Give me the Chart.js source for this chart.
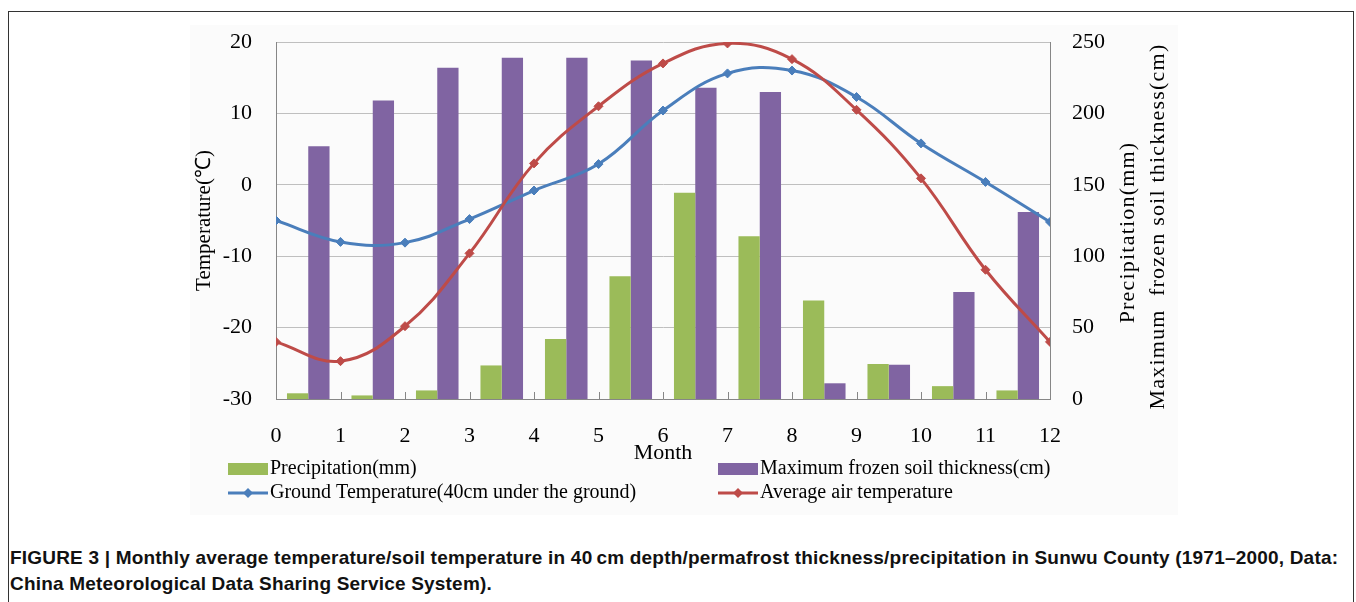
<!DOCTYPE html>
<html>
<head>
<meta charset="utf-8">
<script src="https://cdn.jsdelivr.net/npm/chart.js@4.4.1/dist/chart.umd.min.js"></script>
<style>
  html, body { margin: 0; padding: 0; background: #fff; overflow: hidden; }
  body { width: 1356px; height: 602px; position: relative; }
  .frame { position: absolute; left: 8px; top: 11px; width: 1344px; height: 640px; border: 1px solid #333; }
  .plotbg { position: absolute; left: 190px; top: 25px; width: 988px; height: 490px; background: #fbfbfb; }
  .wrap { position: absolute; left: 0; top: 0; width: 1356px; height: 520px; }
  .caption { position: absolute; left: 10px; top: 545px; font-family: 'Liberation Sans', Arial, sans-serif;
    font-weight: bold; font-size: 19px; letter-spacing: 0.2px; line-height: 26px; color: #111; white-space: nowrap; }
</style>
</head>
<body>
<div class="frame"></div>
<div class="plotbg"></div>
<div class="wrap"><canvas id="climateChart"></canvas></div>
<div class="caption">FIGURE 3 | Monthly average temperature/soil temperature in 40&thinsp;cm depth/permafrost thickness/precipitation in Sunwu County (1971–2000, Data:<br>China Meteorological Data Sharing Service System).</div>
<script>
// Data
// bars sit in the month interval ending at each month number
const barMonths = [1,2,3,4,5,6,7,8,9,10,11,12]
const precipitation = [4, 2.5, 6, 23.5, 42, 86, 144.5, 114, 69, 24.5, 9, 6]
const frozenSoil = [177, 209, 232, 239, 239, 237, 218, 215, 11, 24, 75, 131]

const lineMonths = [0,1,2,3,4,5,6,7,8,9,10,11,12]
const groundTemp = [-5, -8, -8.1, -4.8, -0.8, 2.9, 10.4, 15.6, 16, 12.3, 5.8, 0.4, -5.2]
const airTemp = [-22, -24.7, -19.8, -9.6, 3, 11, 17, 19.8, 17.6, 10.5, 0.9, -11.9, -22]

const serif = "'Liberation Serif', 'Times New Roman', serif"
Chart.defaults.font.family = serif
Chart.defaults.color = '#000'

const green = '#9bbb59'
const purple = '#8064a2'
const blue = '#4a7ebb'
const red = '#be4b48'
const axisGray = '#868686'

// centre of a month's interval on the 0..12 axis
const barPoints = values => barMonths.map((m, i) => ({ x: m - 0.5, y: values[i] }))
const linePoints = values => lineMonths.map((m, i) => ({ x: m, y: values[i] }))

// inside tick marks on the month axis
const innerTicks = {
    id: 'innerTicks',
    beforeDatasetsDraw(chart) {
        const ctx = chart.ctx
        const x = chart.scales.x
        const bottom = chart.chartArea.bottom
        ctx.save()
        ctx.strokeStyle = axisGray
        ctx.lineWidth = 1
        lineMonths.forEach(m => {
            const px = Math.round(x.getPixelForValue(m)) + 0.5
            ctx.beginPath()
            ctx.moveTo(px, bottom)
            ctx.lineTo(px, bottom - 7)
            ctx.stroke()
        })
        ctx.restore()
    }
}

// right axis titles (read bottom to top) and the 2x2 legend
const extraText = {
    id: 'extraText',
    afterDraw(chart) {
        const ctx = chart.ctx
        const area = chart.chartArea
        const midY = (area.top + area.bottom) / 2 + 6
        ctx.save()
        ctx.fillStyle = '#000'
        ctx.font = '22px ' + serif
        ctx.letterSpacing = '1.2px'
        ctx.textAlign = 'center'
        ctx.textBaseline = 'middle'
        const titles = [['Precipitation(mm)', 1128, midY + 6], ['Maximum  frozen soil thickness(cm)', 1158, midY]]
        titles.forEach(([t, x, y]) => {
            ctx.save()
            ctx.translate(x, y)
            ctx.rotate(-Math.PI / 2)
            ctx.fillText(t, 0, 0)
            ctx.restore()
        })
        ctx.letterSpacing = '0px'

        const cols = [228, 718]
        const rows = [469, 493]
        ctx.font = '20px ' + serif
        ctx.textAlign = 'left'
        chart.data.datasets.forEach((ds, i) => {
            const x = cols[i % 2]
            const y = rows[Math.floor(i / 2)]
            if (ds.type === 'line') {
                ctx.strokeStyle = ds.borderColor
                ctx.lineWidth = 3
                ctx.beginPath()
                ctx.moveTo(x, y)
                ctx.lineTo(x + 40, y)
                ctx.stroke()
                ctx.fillStyle = ds.borderColor
                ctx.beginPath()
                ctx.moveTo(x + 20, y - 5)
                ctx.lineTo(x + 25, y)
                ctx.lineTo(x + 20, y + 5)
                ctx.lineTo(x + 15, y)
                ctx.closePath()
                ctx.fill()
            } else {
                ctx.fillStyle = ds.backgroundColor
                ctx.fillRect(x, y - 6, 40, 12)
            }
            ctx.fillStyle = '#000'
            ctx.fillText(ds.label, x + 42, y)
        })
        ctx.restore()
    }
}

new Chart(document.getElementById('climateChart'), {
    type: 'bar',
    data: {
        datasets: [
            {
                label: 'Precipitation(mm)',
                data: barPoints(precipitation),
                backgroundColor: green,
                yAxisID: 'y1',
                categoryPercentage: 0.66,
                barPercentage: 1.0,
                order: 2
            },
            {
                label: 'Maximum frozen soil thickness(cm)',
                data: barPoints(frozenSoil),
                backgroundColor: purple,
                yAxisID: 'y1',
                categoryPercentage: 0.66,
                barPercentage: 1.0,
                order: 2
            },
            {
                type: 'line',
                label: 'Ground Temperature(40cm under the ground)',
                data: linePoints(groundTemp),
                borderColor: blue,
                backgroundColor: blue,
                borderWidth: 3,
                tension: 0.4,
                pointStyle: 'rectRot',
                pointRadius: 4.5,
                pointBorderWidth: 1,
                yAxisID: 'y',
                order: 1
            },
            {
                type: 'line',
                label: 'Average air temperature',
                data: linePoints(airTemp),
                borderColor: red,
                backgroundColor: red,
                borderWidth: 3,
                tension: 0.4,
                pointStyle: 'rectRot',
                pointRadius: 4.5,
                pointBorderWidth: 1,
                yAxisID: 'y',
                order: 0
            }
        ]
    },
    options: {
        responsive: true,
        maintainAspectRatio: false,
        animation: false,
        layout: { padding: { top: 42, left: 0, right: 0, bottom: 21 } },
        plugins: {
            legend: { display: false },
            tooltip: { enabled: false }
        },
        scales: {
            x: {
                type: 'linear',
                position: 'bottom',
                min: 0,
                max: 12,
                offset: false,
                ticks: { stepSize: 1, padding: 24, font: { size: 22 }, maxRotation: 0, autoSkip: false },
                grid: { display: false, drawTicks: false, offset: false },
                border: { color: axisGray },
                title: { display: true, text: 'Month', font: { size: 22 }, padding: { top: 0, bottom: 33 } },
                afterFit(s) { s.height = 100 }
            },
            y: {
                position: 'left',
                min: -30,
                max: 20,
                ticks: { stepSize: 10, padding: 24, font: { size: 22 } },
                grid: { color: '#bfbfbf', drawTicks: false },
                border: { color: axisGray },
                title: { display: true, text: 'Temperature(℃)', font: { size: 21 }, padding: { top: 192, bottom: 0 } },
                afterFit(s) { s.width = 276 }
            },
            y1: {
                position: 'right',
                min: 0,
                max: 250,
                ticks: { stepSize: 50, padding: 22, font: { size: 22 } },
                grid: { display: false, drawTicks: false },
                border: { color: axisGray },
                afterFit(s) { s.width = 306 }
            }
        }
    },
    plugins: [innerTicks, extraText]
})
</script>
</body>
</html>
